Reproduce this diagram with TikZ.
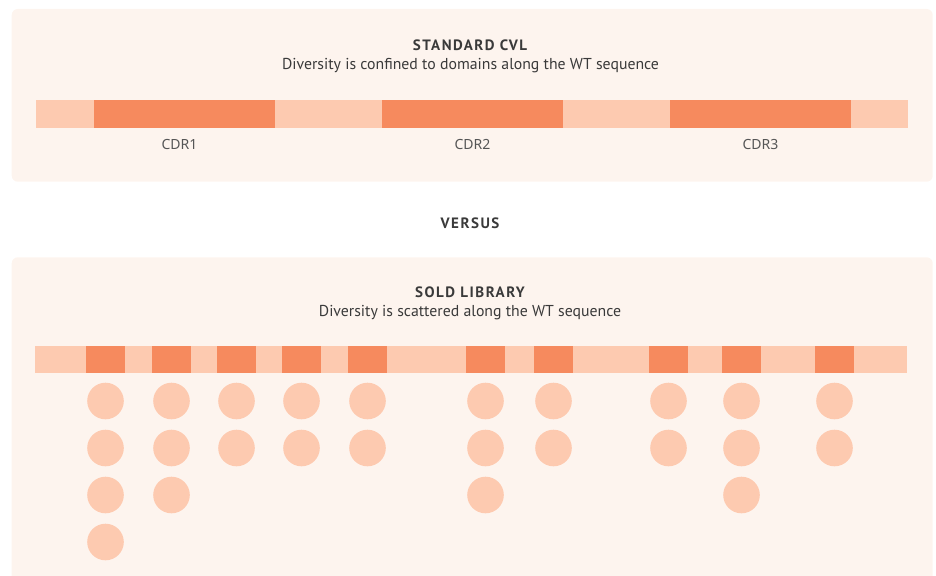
\documentclass[tikz,border=0pt]{standalone}
\usepackage{fontspec}
\setmainfont{PT Sans}
\newfontfamily\labelfont{Noto Sans}
\newfontfamily\titlefont[LetterSpace=10]{PT Sans Bold}
\definecolor{panelbg}{HTML}{FDF4EE}
\definecolor{barlight}{HTML}{FDCAB0}
\definecolor{bardark}{HTML}{F68A5E}
\definecolor{txt}{HTML}{3A3A3A}
\definecolor{lbl}{HTML}{555555}
\begin{document}
\begin{tikzpicture}[x=1pt,y=-1pt,
  panel/.style={fill=panelbg,draw=none},
  lightseg/.style={fill=barlight,draw=none},
  darkseg/.style={fill=bardark,draw=none},
  dot/.style={circle,fill=barlight,draw=none,minimum size=36.6pt,inner sep=0pt},
  titletext/.style={font=\titlefont\fontsize{15}{17}\selectfont,text=txt,anchor=base,inner sep=0pt},
  subtext/.style={font=\fontsize{15.8}{18}\selectfont,text=txt,anchor=base,inner sep=0pt},
  cdrlabel/.style={font=\labelfont\fontsize{14}{16}\selectfont,text=lbl,anchor=base,inner sep=0pt}]
\useasboundingbox (0,0) rectangle (936,575);
\begin{scope}
\clip (0,0) rectangle (936,575);
% top panel
\fill[panel,rounded corners=6pt] (11.7,9) rectangle (932.7,181.7);
% bottom panel
\fill[panel,rounded corners=6pt] (11.7,257.3) rectangle (932.7,600);
\end{scope}
% top bar
\fill[lightseg] (36,100) rectangle (908,127.5);
\foreach \a/\b in {94/275,382/563,670/851}
  \fill[darkseg] (\a,100) rectangle (\b,127.5);
\node[titletext] (t1) at (470,50.7) {STANDARD CVL};
\node[subtext] (s1) at (470.5,69.3) {Diversity is confined to domains along the WT sequence};
\node[cdrlabel] (c1) at (179.5,149.3) {CDR1};
\node[cdrlabel] (c2) at (472.5,149.3) {CDR2};
\node[cdrlabel] (c3) at (760.5,149.3) {CDR3};
\node[titletext] (vs) at (470,228.3) {VERSUS};
% bottom
\node[titletext] (t2) at (470,297.7) {SOLD LIBRARY};
\node[subtext] (s2) at (470,316.5) {Diversity is scattered along the WT sequence};
\fill[lightseg] (35,345.7) rectangle (907,372.7);
\foreach \a/\n in {86/4,152/3,217/2,282/2,348/2,466/3,534/2,649/2,722/3,815/2}{
  \fill[darkseg] (\a,345.7) rectangle ({\a+39},372.7);
  \foreach \r in {1,...,\n}
    \node[dot] (d\a-\r) at ({\a+19.5},{401-47+47*\r}) {};
}
\end{tikzpicture}
\end{document}
